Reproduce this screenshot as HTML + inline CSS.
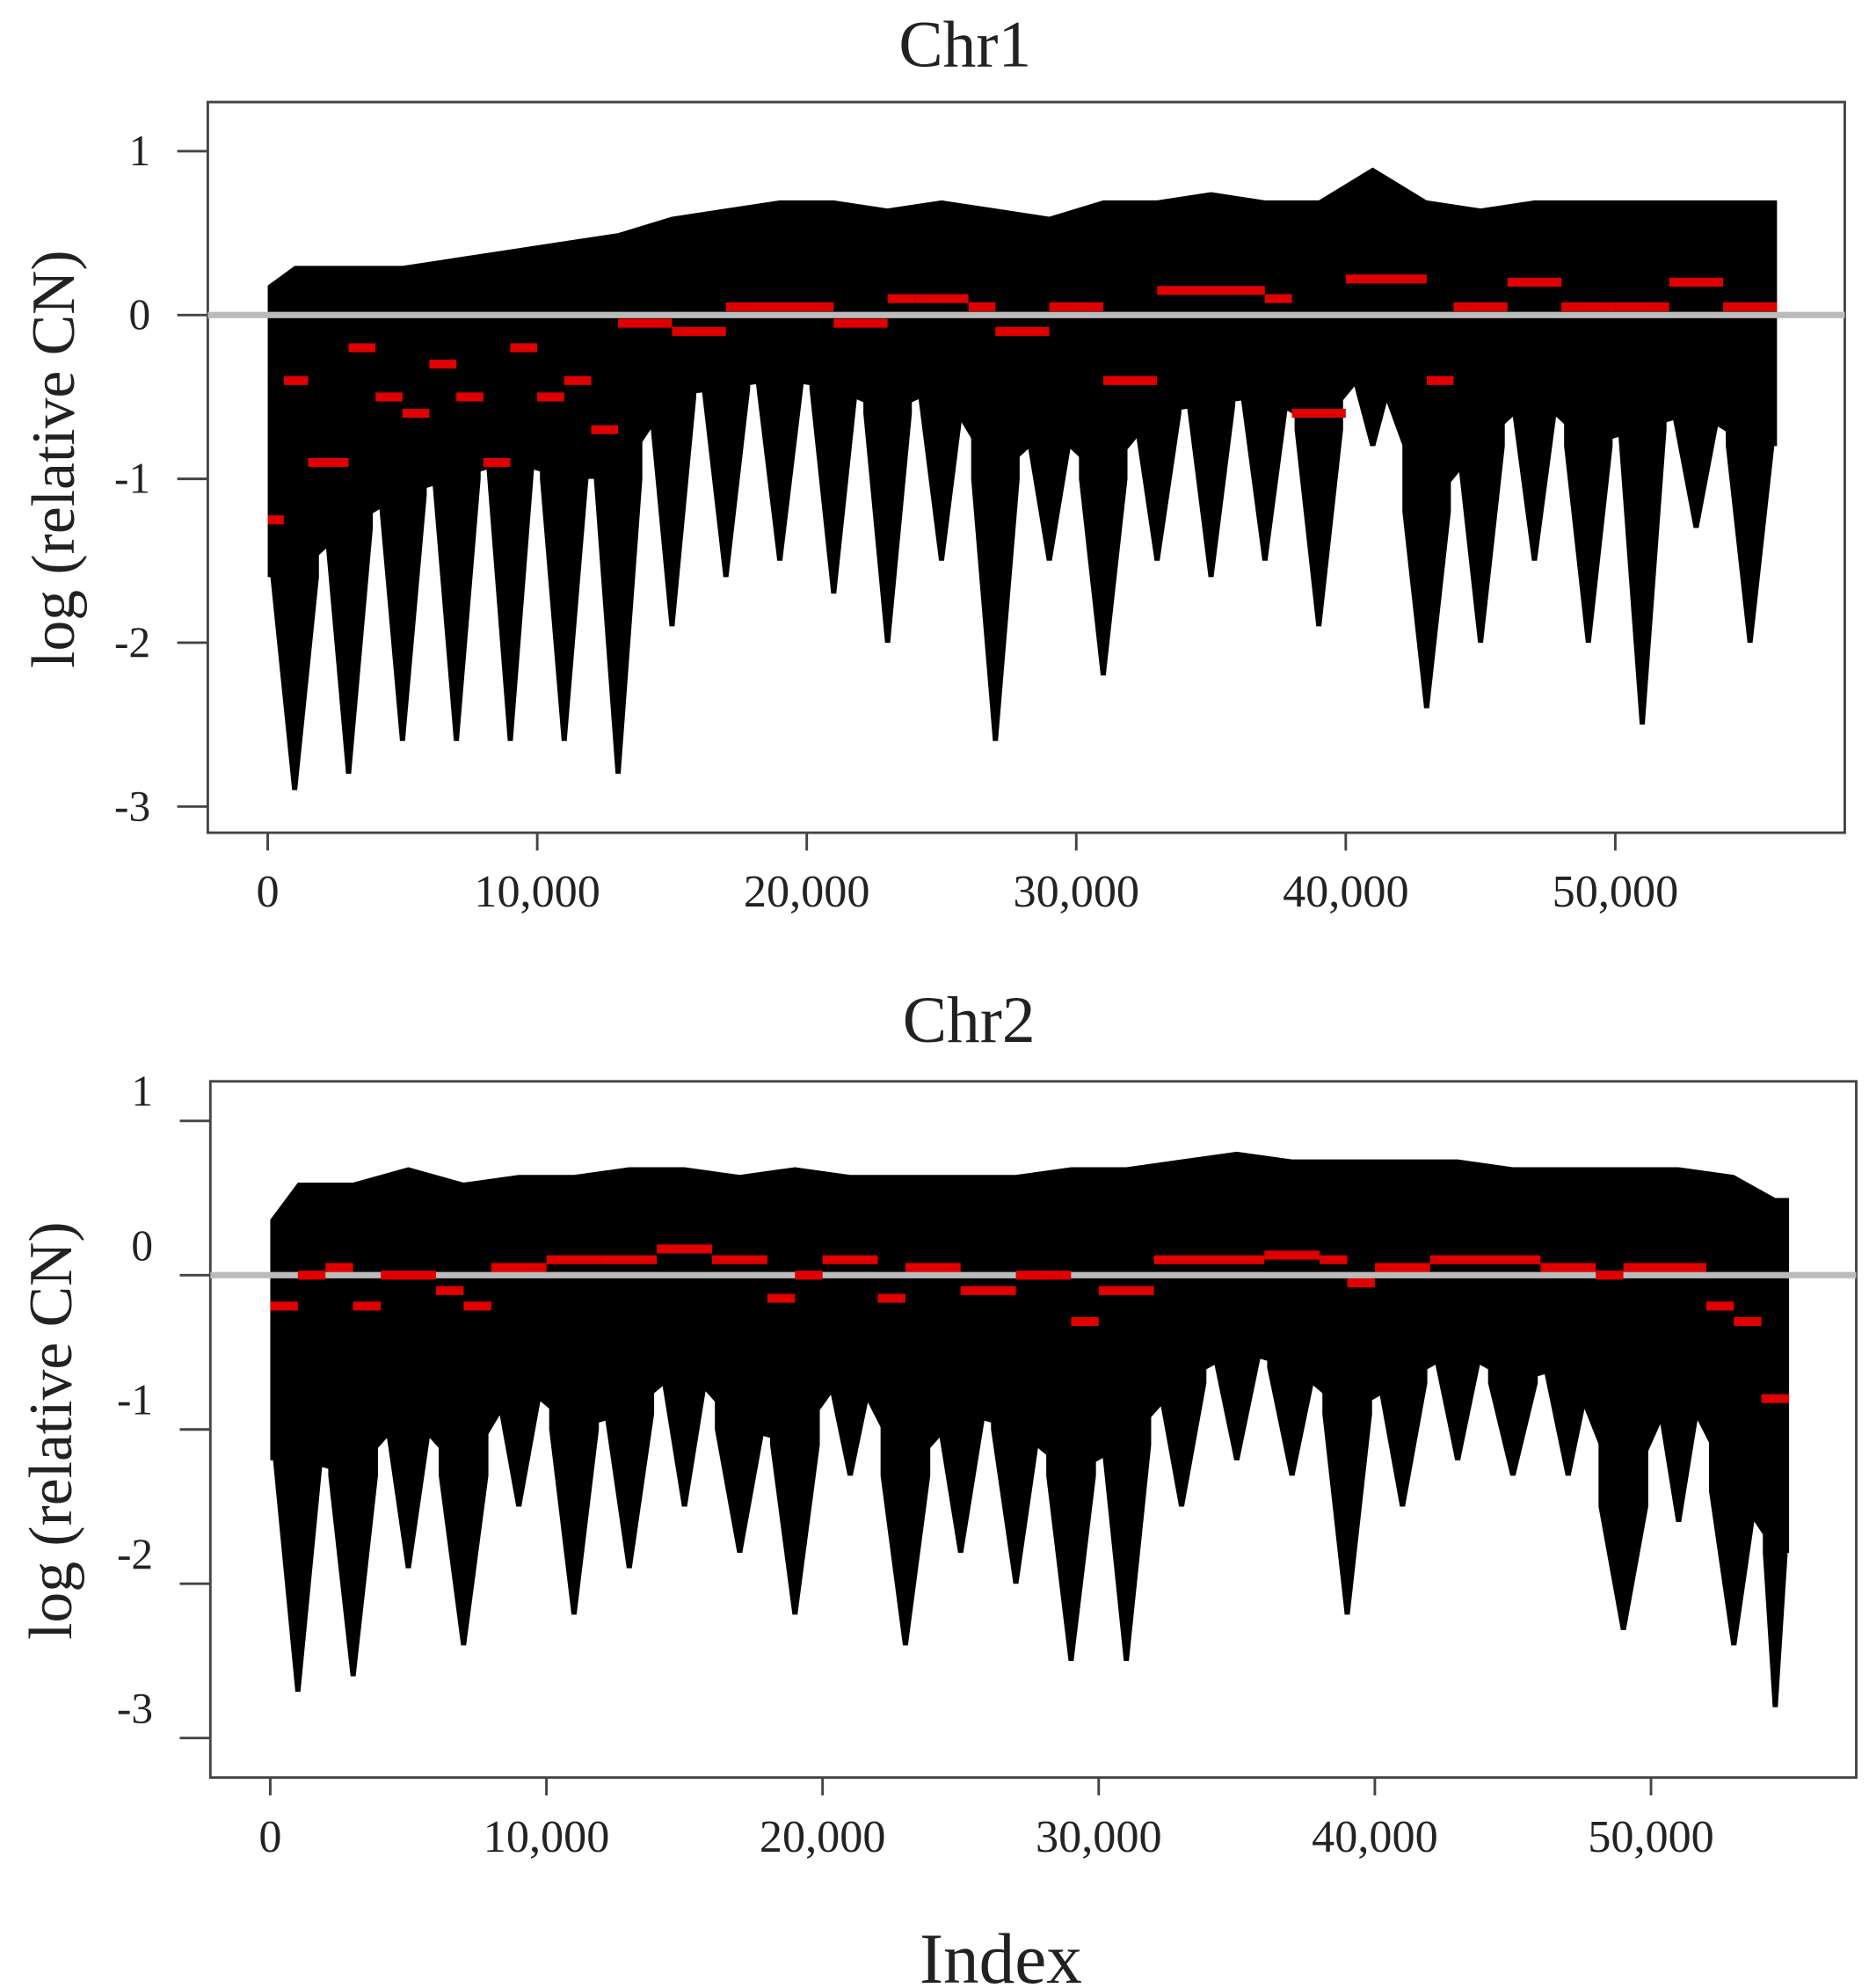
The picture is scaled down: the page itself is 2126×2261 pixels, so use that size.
<!DOCTYPE html>
<html><head><meta charset="utf-8"><style>
html,body{margin:0;padding:0;background:#fff}
svg{display:block}
text{font-family:"Liberation Serif",serif;fill:#222}
</style></head><body>
<svg id="chart" width="2126" height="2261" viewBox="0 0 1466 1559" xmlns="http://www.w3.org/2000/svg">
<text x="757" y="52" font-size="52" text-anchor="middle">Chr1</text>
<text x="760" y="817" font-size="52" text-anchor="middle">Chr2</text>
<text transform="translate(58,360) rotate(-90)" font-size="48" text-anchor="middle">log (relative CN)</text>
<text transform="translate(56,1122) rotate(-90)" font-size="48" text-anchor="middle">log (relative CN)</text>
<text x="785" y="1555" font-size="56" text-anchor="middle">Index</text>
<g id="p1"></g>
<g id="p2"></g>
</svg>
<script>
// Chr1 data (index in thousands, 2000-wide bins)
const chr1BinStart=[0,2,4,6,8,10,12,14,16,18,20,22,24,26,28,30,32,34,36,38,40,42,44,46,48,50,52,54];
const chr1Top=[0.3,0.3,0.3,0.35,0.4,0.45,0.5,0.6,0.65,0.7,0.7,0.65,0.7,0.65,0.6,0.7,0.7,0.75,0.7,0.7,0.9,0.7,0.65,0.7,0.7,0.7,0.7,0.7];
const chr1Low=[-1.6,-1.3,-1.1,-1.0,-0.9,-1.0,-1.0,-0.5,-0.45,-0.4,-0.45,-0.6,-0.45,-1.0,-0.7,-1.0,-0.6,-0.55,-0.5,-0.7,-0.3,-1.2,-0.8,-0.5,-0.8,-0.7,-0.6,-0.8];
const chr1Min=[-2.9,-2.8,-2.6,-2.6,-2.6,-2.6,-2.8,-1.9,-1.6,-1.5,-1.7,-2.0,-1.5,-2.6,-1.5,-2.2,-1.5,-1.6,-1.5,-1.9,-0.8,-2.4,-2.0,-1.5,-2.0,-2.5,-1.3,-2.0];
const chr1SegStart=[0,0.6,1.5,3,4,5,6,7,8,9,10,11,12,13,15,17,19,21,23,24,26,27,29,31,33,35,37,38,40,43,44,46,48,50,52,54];
const chr1SegEnd=[0.6,1.5,3,4,5,6,7,8,9,10,11,12,13,15,17,19,21,23,24,26,27,29,31,33,35,37,38,40,43,44,46,48,50,52,54,56];
const chr1SegVal=[-1.25,-0.4,-0.9,-0.2,-0.5,-0.6,-0.3,-0.5,-0.9,-0.2,-0.5,-0.4,-0.7,-0.05,-0.1,0.05,0.05,-0.05,0.1,0.1,0.05,-0.1,0.05,-0.4,0.15,0.15,0.1,-0.6,0.22,-0.4,0.05,0.2,0.05,0.05,0.2,0.05];
// Chr2 data
const chr2BinStart=[0,2,4,6,8,10,12,14,16,18,20,22,24,26,28,30,32,34,36,38,40,42,44,46,48,50,52,54];
const chr2Top=[0.6,0.6,0.7,0.6,0.65,0.65,0.7,0.7,0.65,0.7,0.65,0.65,0.65,0.65,0.7,0.7,0.75,0.8,0.75,0.75,0.75,0.75,0.7,0.7,0.7,0.7,0.65,0.5];
const chr2Low=[-1.2,-1.3,-0.9,-1.3,-0.7,-1.0,-0.9,-0.6,-1.0,-1.1,-0.6,-1.3,-0.9,-1.0,-1.3,-1.1,-0.7,-0.5,-0.6,-0.9,-0.7,-0.5,-0.7,-0.6,-1.5,-0.7,-1.4,-1.8];
const chr2Min=[-2.7,-2.6,-1.9,-2.4,-1.5,-2.2,-1.9,-1.5,-1.8,-2.2,-1.3,-2.4,-1.8,-2.0,-2.5,-2.5,-1.5,-1.2,-1.3,-2.2,-1.5,-1.2,-1.3,-1.3,-2.3,-1.6,-2.4,-2.8];
const chr2SegStart=[0,1,2,3,4,6,7,8,10,12,14,16,18,19,20,22,23,25,27,29,30,32,34,36,38,39,40,42,44,46,48,49,52,53,54];
const chr2SegEnd=[1,2,3,4,6,7,8,10,12,14,16,18,19,20,22,23,25,27,29,30,32,34,36,38,39,40,42,44,46,48,49,52,53,54,55];
const chr2SegVal=[-0.2,0.0,0.05,-0.2,0.0,-0.1,-0.2,0.05,0.1,0.1,0.17,0.1,-0.15,0.0,0.1,-0.15,0.05,-0.1,0.0,-0.3,-0.1,0.1,0.1,0.13,0.1,-0.05,0.05,0.1,0.1,0.05,0.0,0.05,-0.2,-0.3,-0.8];
const xTicks=[0,10,20,30,40,50];
const xTickLabels=["0","10,000","20,000","30,000","40,000","50,000"];
const yTicks=[1,0,-1,-2,-3];

const NS="http://www.w3.org/2000/svg";
function mk(p,t,a){const e=document.createElementNS(NS,t);for(const k in a)e.setAttribute(k,a[k]);p.appendChild(e);return e;}

function panel(g,cfg,bs,top,low,mn,ss,se,sv,maxX){
  const X=v=>cfg.x0+v*cfg.kx, Y=v=>cfg.y0-v*cfg.ky;
  const box=mk(g,'rect',{x:cfg.L,y:cfg.T,width:cfg.R-cfg.L,height:cfg.B-cfg.T,fill:'none',stroke:'#444','stroke-width':2});
  
  
  const n=bs.length;
  const cx=i=>(bs[i]+Math.min(bs[i]+2,maxX))/2;
  let pts=[[X(0),Y(top[0]*0.6)]];
  for(let i=0;i<n;i++)pts.push([X(cx(i)),Y(top[i])]);
  pts.push([X(maxX),Y(top[n-1])],[X(maxX),Y(low[n-1])]);
  for(let i=n-1;i>=0;i--)pts.push([X(cx(i)),Y(low[i])]);
  pts.push([X(0),Y(low[0])]);
  const cloud=mk(g,'polygon',{points:pts.map(p=>p.join(',')).join(' '),fill:'#000'});
  
  
  for(let i=0;i<n;i++){
    const e=Math.min(bs[i]+2,maxX);
    const w=X(e)-X(bs[i]);
    const c=X(cx(i));
    const base=Y(Math.max(low[i],-0.3));
    const mid=Y(low[i]);
    const sp=mk(g,'polygon',{points:`${c-w*0.45},${base} ${c-w*0.45},${mid} ${c-2},${Y(mn[i])} ${c+2},${Y(mn[i])} ${c+w*0.45},${mid} ${c+w*0.45},${base}`,fill:'#000'});
    
    
  }
  const zl=mk(g,'line',{x1:cfg.L,x2:cfg.R,y1:Y(0),y2:Y(0),stroke:'#bbb','stroke-width':5});
  
  
  for(let i=0;i<ss.length;i++){
    const s=mk(g,'rect',{x:X(ss[i]),y:Y(sv[i])-3.5,width:Math.max(X(se[i])-X(ss[i]),4),height:7,fill:'#e00000'});
    
    
  }
  xTicks.forEach((t,i)=>{
    const l=mk(g,'line',{x1:X(t),x2:X(t),y1:cfg.B,y2:cfg.B+14,stroke:'#444','stroke-width':2});
    
    
    const tx=mk(g,'text',{x:X(t),y:cfg.B+58,'font-size':36,'text-anchor':'middle'});
    tx.textContent=xTickLabels[i];
    
    
  });
  yTicks.forEach(t=>{
    const l=mk(g,'line',{x1:cfg.L-24,x2:cfg.L,y1:Y(t),y2:Y(t),stroke:'#444','stroke-width':2});
    
    
    const tx=mk(g,'text',{x:cfg.L-45,y:Y(t)+cfg.ly,'font-size':34,'text-anchor':'end'});
    tx.textContent=String(t);
    
    
  });
}
panel(document.getElementById('p1'),{L:163,R:1447,T:80,B:653,x0:210,kx:21.14,y0:247,ky:128.5,ly:11},chr1BinStart,chr1Top,chr1Low,chr1Min,chr1SegStart,chr1SegEnd,chr1SegVal,56);
panel(document.getElementById('p2'),{L:165,R:1456,T:848,B:1394,x0:212,kx:21.66,y0:1000,ky:121,ly:-12},chr2BinStart,chr2Top,chr2Low,chr2Min,chr2SegStart,chr2SegEnd,chr2SegVal,55);
</script>
</body></html>
